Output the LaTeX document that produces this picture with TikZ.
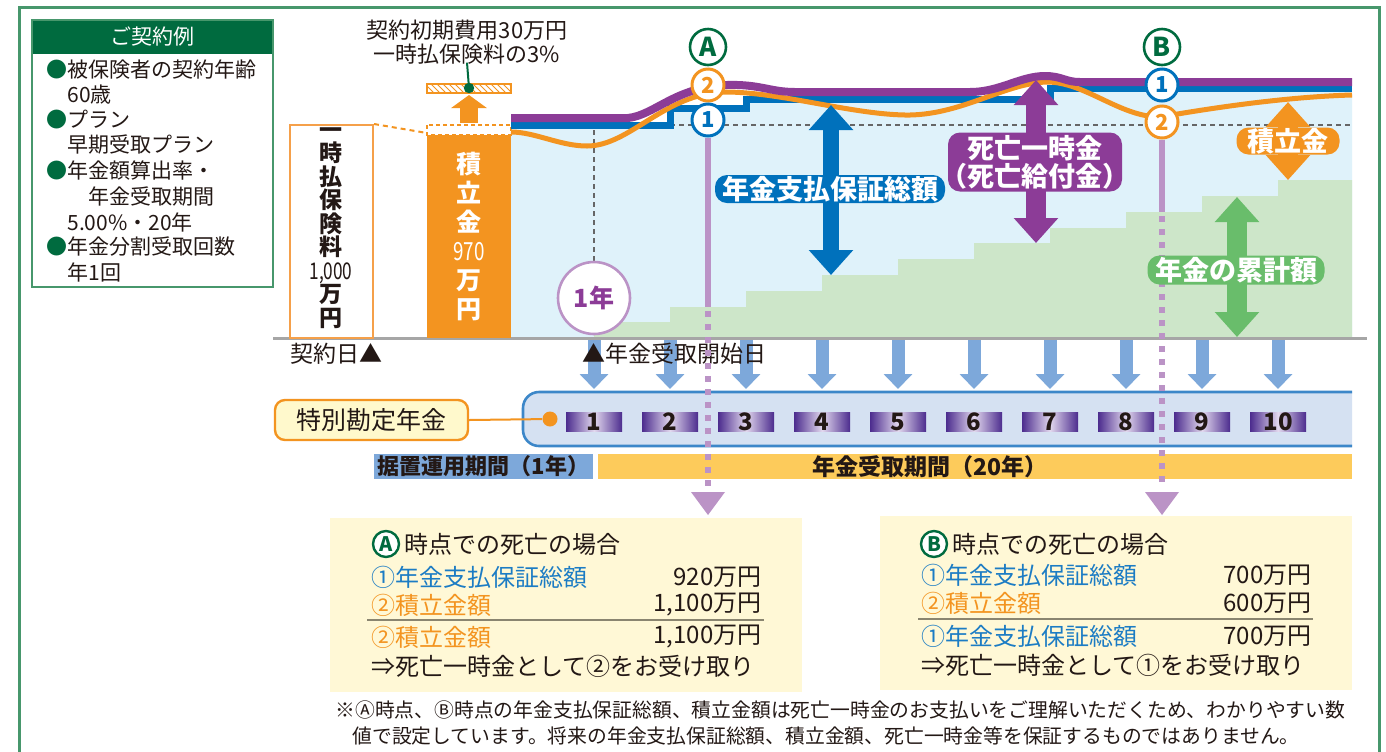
\documentclass[tikz,border=0pt]{standalone}
\usepackage{fontspec}
\usepackage{graphicx}
\setmainfont{Noto Sans CJK JP}
\usetikzlibrary{arrows.meta,patterns}
\definecolor{orC}{HTML}{F39420}
\definecolor{blC}{HTML}{0071BC}
\definecolor{bltxt}{HTML}{1C7CC4}
\definecolor{puC}{HTML}{8C3C97}
\definecolor{ltblue}{HTML}{DFF2FA}
\definecolor{ltgreen}{HTML}{CDE6C9}
\definecolor{grC}{HTML}{69BD6B}
\definecolor{lav}{HTML}{BB93C6}
\definecolor{arrblue}{HTML}{7DA8DA}
\definecolor{bandfill}{HTML}{D5E1F2}
\definecolor{bandline}{HTML}{3C87C9}
\definecolor{yelbar}{HTML}{FDCB5B}
\definecolor{boxyel}{HTML}{FFF8D6}
\definecolor{labyel}{HTML}{FFF9CC}
\definecolor{dkgreen}{HTML}{006B3F}
\definecolor{frameG}{HTML}{47976C}
\definecolor{txt}{HTML}{231815}
\definecolor{boxpu}{HTML}{4C2C8E}
\definecolor{boxlt}{HTML}{E2D8EE}
\definecolor{sepC}{HTML}{8A8570}
\definecolor{lineor}{HTML}{F5A04A}
\definecolor{dashgray}{HTML}{666666}
\newcommand\jfs[2]{\fontsize{#1}{#2}\selectfont}
\begin{document}
\begin{tikzpicture}[x=0.5pt,y=-0.5pt,
  plain/.style={inner sep=0pt, text=txt},
  bigarrow/.style={line width=#1, {Triangle[width=21.5pt,length=12.5pt]}-{Triangle[width=21.5pt,length=12.5pt]}},
  chartlabel/.style={inner sep=0pt, text=white, font=\bfseries\jfs{13.5pt}{14pt}, rounded corners=6pt},
  circlet/.style={circle, draw=#1, fill=white, inner sep=0pt, text=#1},
  boxrow/.style={anchor=west, inner sep=0pt, font=\jfs{12pt}{12pt}},
  boxnum/.style={anchor=east, inner sep=0pt, font=\jfs{12pt}{12pt}, text=txt},
  downarr/.style={arrblue, line width=6.5pt, -{Triangle[width=14pt,length=7.5pt]}},
  lavsolid/.style={lav, line width=3pt},
  lavdash/.style={lav, line width=3pt, dash pattern=on 3pt off 3.5pt},
  leftline/.style={anchor=west, inner sep=0pt, font=\jfs{10.5pt}{11pt}, text=txt}
]
\useasboundingbox (0,0) rectangle (1386,751);
\fill[white] (0,0) rectangle (1386,751);

% outer frame
\draw[frameG, line width=1.5pt] (19,760) -- (19,7) -- (1379,7) -- (1379,760);

% contract example box
\fill[dkgreen] (32,20) rectangle (273,54);
\draw[frameG, line width=1pt] (32,20) rectangle (273,287);
\node[inner sep=0pt, text=white, font=\jfs{10.5pt}{11pt}] (hdr) at (152,37) {ご契約例};
\node[leftline] (l1) at (46,70) {\textcolor{dkgreen}{●}被保険者の契約年齢};
\node[leftline] (l2) at (67,95) {60歳};
\node[leftline] (l3) at (46,120) {\textcolor{dkgreen}{●}プラン};
\node[leftline] (l4) at (67,145) {早期受取プラン};
\node[leftline] (l5) at (46,170) {\textcolor{dkgreen}{●}年金額算出率・};
\node[leftline] (l6) at (88,197) {年金受取期間};
\node[leftline] (l7) at (67,222) {5.00\%・20年};
\node[leftline] (l8) at (46,247) {\textcolor{dkgreen}{●}年金分割受取回数};
\node[leftline] (l9) at (67,272) {年1回};

% chart background
\fill[ltblue] (511,125) -- (670,125) -- (670,108) -- (746,108) -- (746,99) -- (1050,99) -- (1050,88) -- (1352,88) -- (1352,338) -- (511,338) -- cycle;
\fill[ltgreen] (594,338) -- (594,322) -- (670,322) -- (670,307) -- (746,307) -- (746,291) -- (822,291) -- (822,275) -- (898,275) -- (898,259) -- (974,259) -- (974,243) -- (1050,243) -- (1050,228) -- (1126,228) -- (1126,212) -- (1202,212) -- (1202,196) -- (1278,196) -- (1278,180) -- (1352,180) -- (1352,338) -- cycle;
\draw[dashgray, line width=0.8pt, dash pattern=on 2.5pt off 2pt] (670,125) -- (1352,125);
\draw[dashgray, line width=0.8pt, dash pattern=on 2.5pt off 2pt] (594,130) -- (594,338);

% base line
\draw[gray!70, line width=1.5pt] (273,338) -- (1367,338);

% premium box
\node[draw=lineor, line width=1pt, fill=white, minimum width=41.5pt, minimum height=106.5pt, inner sep=0pt] (prem) at (331.5,231.5) {};
\node[inner sep=0pt, text=txt, align=center, font=\bfseries\jfs{11.5pt}{11.75pt}] (premtxt) at (331,228) {一\\時\\払\\保\\険\\料\\{\mdseries\scalebox{0.75}[1]{1,000}}\\万\\円};

% reserve bar
\fill[orC] (427,135) rectangle (511,338);
\draw[orC, line width=0.8pt, dash pattern=on 2pt off 1.5pt, fill=white] (427,125) rectangle (511,135);
\coordinate (dl) at (427,133);
\draw[orC, line width=1pt, dash pattern=on 2.5pt off 2pt] (prem.north east) -- (dl);
\node[inner sep=0pt, text=white, align=center, font=\bfseries\jfs{12.5pt}{14.5pt}] (restxt) at (469,236) {積\\立\\金\\{\mdseries\scalebox{0.75}[1]{970}}\\万\\円};

% initial cost
\draw[orC, line width=0.6pt, pattern=north west lines, pattern color=orC] (427,84) rectangle (511,93);
\draw[orC, line width=9pt, -{Triangle[width=17.5pt,length=6.5pt]}] (469,123) -- (469,95);
\node[inner sep=0pt, text=txt, align=center, font=\jfs{11pt}{12pt}] (cost) at (467,42) {契約初期費用30万円\\一時払保険料の3\%};
\coordinate (gdot) at (469,88);
\draw[dkgreen, line width=1pt] (cost.south) ++(0,-2) -- (gdot);
\fill[dkgreen] (gdot) circle (2.6pt);

% curves
\draw[blC, line width=3.5pt] (511,125) -- (670,125) -- (670,108) -- (746,108) -- (746,99) -- (1050,99) -- (1050,88) -- (1352,88);
\draw[orC, line width=2.5pt] (511,132) .. controls (535,132) and (560,146) .. (587,146) .. controls (630,146) and (665,93) .. (725,92) .. controls (780,92) and (850,114) .. (905,115) .. controls (960,116) and (1005,83) .. (1047,82) .. controls (1085,82) and (1120,117) .. (1160,117) .. controls (1200,110) and (1280,97) .. (1352,95);
\draw[puC, line width=4pt] (511,118) -- (628,118) .. controls (655,115) and (675,87) .. (727,85) .. controls (760,84) and (770,92) .. (795,92) -- (970,92) .. controls (1000,92) and (1020,76) .. (1045,76) .. controls (1062,76) and (1065,82) .. (1080,82) -- (1352,82);

% 1 year circle
\node[circle, draw=lav, line width=1.3pt, fill=white, minimum size=36pt, inner sep=0pt, text=puC, font=\bfseries\jfs{12.5pt}{12.5pt}] (yr1) at (594,298) {1年};

% markers A and B
\node[circlet=dkgreen, line width=1.3pt, minimum size=18pt, font=\bfseries\jfs{13pt}{13pt}] (A) at (708,47) {A};
\node[circlet=orC, line width=1.5pt, minimum size=16pt, font=\bfseries\jfs{11pt}{11pt}] (A2) at (708,85) {2};
\node[circlet=blC, line width=1.5pt, minimum size=16pt, font=\bfseries\jfs{11pt}{11pt}] (A1) at (708,120) {1};
\node[circlet=dkgreen, line width=1.3pt, minimum size=18pt, font=\bfseries\jfs{13pt}{13pt}] (B) at (1162,47) {B};
\node[circlet=blC, line width=1.5pt, minimum size=16pt, font=\bfseries\jfs{11pt}{11pt}] (B1) at (1162,85) {1};
\node[circlet=orC, line width=1.5pt, minimum size=16pt, font=\bfseries\jfs{11pt}{11pt}] (B2) at (1162,122) {2};

% payout arrows
\foreach \x in {594,670,...,1278} {
  \draw[downarr] (\x,340) -- (\x,389);
}

% date labels
\node[plain, font=\jfs{11.5pt}{12pt}] (cday) at (336,354) {契約日▲};
\node[plain, anchor=west, font=\jfs{11.5pt}{12pt}] (sday) at (582,354) {▲年金受取開始日};

% special account band
\fill[bandfill] (1352,392) [rounded corners=8pt] -- (523,392) -- (523,446) [sharp corners] -- (1352,446) -- cycle;
\draw[bandline, line width=1.3pt] (1352,392) [rounded corners=8pt] -- (523,392) -- (523,446) [sharp corners] -- (1352,446);
\node[circle, fill=orC, minimum size=7.5pt, inner sep=0pt] (dot) at (550,419) {};
\node[draw=orC, line width=1.2pt, fill=labyel, rounded corners=5pt, minimum width=96.5pt, minimum height=20pt, inner sep=0pt, font=\jfs{12.5pt}{13pt}, text=txt] (tok) at (371.5,420) {特別勘定年金};
\draw[orC, line width=1pt] (tok.east) -- (dot);
\foreach \i/\x in {1/594,2/670,3/746,4/822,5/898,6/974,7/1050,8/1126,9/1202,10/1278} {
  \node[shade, left color=boxpu, right color=boxpu, middle color=boxlt, minimum width=28pt, minimum height=9.5pt, inner sep=0pt, font=\bfseries\jfs{12pt}{12pt}, text=txt] (bx\i) at (\x,421.5) {\i};
}

% period bars
\node[fill=arrblue, minimum width=109.5pt, minimum height=12.5pt, inner sep=0pt, font=\bfseries\jfs{11pt}{12pt}, text=txt] (defer) at (483.5,466.5) {据置運用期間（1年）};
\node[fill=yelbar, minimum width=377pt, minimum height=12.5pt, inner sep=0pt] (recv) at (975,466.5) {};
\node[plain, font=\bfseries\jfs{11.5pt}{12pt}] (recvtxt) at (930,466.5) {年金受取期間（20年）};

% A / B drop lines
\coordinate (Ag) at (708,307);
\coordinate (Ae) at (708,488);
\coordinate (Bg) at (1162,212);
\coordinate (Be) at (1162,488);
\draw[lavsolid] (A1.south) -- (Ag);
\draw[lavdash] (Ag) ++(0,4) -- (Ae);
\fill[lav] (691,492) -- (725,492) -- (708,515) -- cycle;
\draw[lavsolid] (B2.south) -- (Bg);
\draw[lavdash] (Bg) ++(0,4) -- (Be);
\fill[lav] (1145,492) -- (1179,492) -- (1162,515) -- cycle;

% big arrows and labels
\draw[blC, bigarrow=8pt] (831,105) -- (831,275);
\node[chartlabel, fill=blC, minimum width=115pt, minimum height=14pt] (lg) at (830,189) {年金支払保証総額};
\draw[puC, bigarrow=10pt] (1036,80) -- (1036,243);
\node[chartlabel, fill=puC, minimum width=87pt, minimum height=29.5pt, align=center] (ld) at (1035,162) {死亡一時金\\\kern-6pt（死亡給付金）\kern-6pt};
\draw[orC, bigarrow=10pt] (1288,102) -- (1288,180);
\node[chartlabel, fill=orC, minimum width=51.5pt, minimum height=13.5pt] (lr) at (1288,141) {積立金};
\draw[grC, bigarrow=10pt] (1237,197) -- (1237,337);
\node[chartlabel, fill=grC, minimum width=88.5pt, minimum height=14.5pt] (lc) at (1236,270) {年金の累計額};

% case A box
\fill[boxyel] (330,518) rectangle (802,692);
\node[circlet=dkgreen, line width=1.2pt, minimum size=13pt, font=\bfseries\jfs{10pt}{10pt}] (ca) at (386,544) {A};
\node[boxrow, text=txt] (ta) at (404,544) {時点での死亡の場合};
\node[boxrow, text=bltxt] (ta1) at (371,577) {①年金支払保証総額};
\node[boxnum] (na1) at (762,577) {920万円};
\node[boxrow, text=orC] (ta2) at (371,605) {②積立金額};
\node[boxnum] (na2) at (762,605) {1,100万円};
\draw[sepC, line width=1pt] (367,620) -- (764,620);
\node[boxrow, text=orC] (ta3) at (371,637) {②積立金額};
\node[boxnum] (na3) at (762,637) {1,100万円};
\node[boxrow, text=txt] (ta4) at (371,666) {⇒死亡一時金として②をお受け取り};

% case B box
\fill[boxyel] (880,516) rectangle (1352,690);
\node[circlet=dkgreen, line width=1.2pt, minimum size=13pt, font=\bfseries\jfs{10pt}{10pt}] (cb) at (934,544) {B};
\node[boxrow, text=txt] (tb) at (952,544) {時点での死亡の場合};
\node[boxrow, text=bltxt] (tb1) at (921,575) {①年金支払保証総額};
\node[boxnum] (nb1) at (1312,575) {700万円};
\node[boxrow, text=orC] (tb2) at (921,603) {②積立金額};
\node[boxnum] (nb2) at (1312,603) {600万円};
\draw[sepC, line width=1pt] (918,619) -- (1313,619);
\node[boxrow, text=bltxt] (tb3) at (921,636) {①年金支払保証総額};
\node[boxnum] (nb3) at (1312,636) {700万円};
\node[boxrow, text=txt] (tb4) at (921,665) {⇒死亡一時金として①をお受け取り};

% footnote
\node[plain, anchor=west, font=\jfs{9.9pt}{10pt}] (fn1) at (335,710) {※Ⓐ時点、Ⓑ時点の年金支払保証総額、積立金額は死亡一時金のお支払いをご理解いただくため、わかりやすい数};
\node[plain, anchor=west, font=\jfs{9.9pt}{10pt}] (fn2) at (352,736) {値で設定しています。将来の年金支払保証総額、積立金額、死亡一時金等を保証するものではありません。};
\end{tikzpicture}
\end{document}
